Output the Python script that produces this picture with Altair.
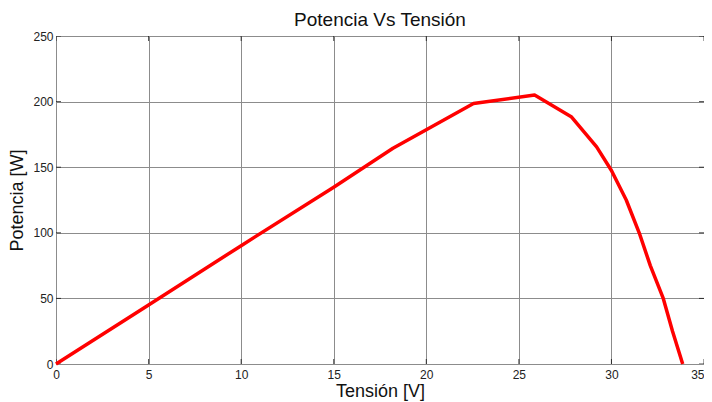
import altair as alt
import pandas as pd

# Data
tension = [0, 5, 10, 15, 18.2, 20, 22.55, 25.85, 27.85, 29.2, 30.0, 30.8, 31.5, 32.1, 32.8, 33.3, 33.85]
potencia = [0, 45, 90.2, 134.7, 164.4, 178.5, 198.5, 205, 188.2, 165.5, 147.5, 125, 100, 75, 50, 25, 0]
x_ticks = [0, 5, 10, 15, 20, 25, 30, 35]
y_ticks = [0, 50, 100, 150, 200, 250]

df = pd.DataFrame({"V": tension, "P": potencia})
dfx = pd.DataFrame({"t": x_ticks})
dfy = pd.DataFrame({"t": y_ticks})

FONT = "Liberation Sans"
W, H = 648, 328

xscale = alt.Scale(domain=[0, 35], nice=False, zero=False)
yscale = alt.Scale(domain=[0, 250], nice=False, zero=False)

xaxis = alt.Axis(values=x_ticks, title="Tensión [V]", grid=True, ticks=False, domain=False,
                 labelFont=FONT, labelFontSize=12, labelColor="#222", labelPadding=5,
                 labelAlign={"expr": "datum.value == 35 ? 'right' : 'center'"},
                 titleFont=FONT, titleFontSize=18, titleFontWeight="normal", titleColor="#111",
                 titlePadding=2, gridColor="#8c8c8c", gridWidth=1, labelFlush=False)
yaxis = alt.Axis(values=y_ticks, title="Potencia [W]", grid=True, ticks=False, domain=False,
                 labelFont=FONT, labelFontSize=12, labelColor="#222", labelPadding=3,
                 titleFont=FONT, titleFontSize=18, titleFontWeight="normal", titleColor="#111",
                 titlePadding=6, gridColor="#8c8c8c", gridWidth=1, labelFlush=False)

line = alt.Chart(df).mark_line(color="#ff0000", strokeWidth=3.5, strokeJoin="round").encode(
    x=alt.X("V:Q", scale=xscale, axis=xaxis),
    y=alt.Y("P:Q", scale=yscale, axis=yaxis),
)

xt_bottom = alt.Chart(dfx).mark_tick(orient="vertical", size=10, thickness=1, color="#000", clip=True).encode(
    x=alt.X("t:Q", scale=xscale), y=alt.value(H))
xt_top = alt.Chart(dfx).mark_tick(orient="vertical", size=10, thickness=1, color="#000", clip=True).encode(
    x=alt.X("t:Q", scale=xscale), y=alt.value(0))
yt_left = alt.Chart(dfy).mark_tick(orient="horizontal", size=10, thickness=1, color="#000", clip=True).encode(
    y=alt.Y("t:Q", scale=yscale), x=alt.value(0))
yt_right = alt.Chart(dfy).mark_tick(orient="horizontal", size=10, thickness=1, color="#000", clip=True).encode(
    y=alt.Y("t:Q", scale=yscale), x=alt.value(W))

chart = alt.layer(xt_bottom, xt_top, yt_left, yt_right, line).properties(
    width=W, height=H,
    title=alt.TitleParams("Potencia Vs Tensión", font=FONT, fontSize=19, fontWeight="normal",
                          color="#111", anchor="middle", offset=0),
    autosize="none",
    padding={"left": 48, "top": 28, "right": 0, "bottom": 38},
).configure_view(stroke="#000", strokeWidth=1.6).configure(background="white")

chart.save("out.html", embed_options={"renderer": "svg", "actions": False})
